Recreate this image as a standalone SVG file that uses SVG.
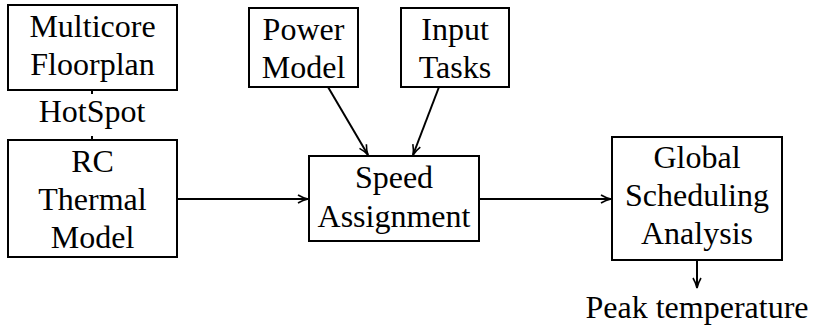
<svg xmlns="http://www.w3.org/2000/svg" width="822" height="325" viewBox="0 0 822 325">
<style>
.box{fill:#fff;stroke:#000;stroke-width:2}
.t{font-family:"Liberation Serif","Noto Serif","Times New Roman",Tinos,"DejaVu Serif",FreeSerif,"Nimbus Roman",Georgia,serif;font-size:32px;fill:#000;text-anchor:middle}
.c{fill:none;stroke:#000;stroke-width:2}
</style>
<defs>
<marker id="ah" viewBox="0 0 12 10" refX="11" refY="5" markerWidth="12" markerHeight="10" markerUnits="userSpaceOnUse" orient="auto">
<path d="M1,1 Q6,4 11,5 Q6,6 1,9" fill="none" stroke="#000" stroke-width="1.6"/>
</marker>
</defs>
<rect width="822" height="325" fill="#fff"/>
<g id="connectors">
<line class="c" x1="92" y1="90" x2="92" y2="94" stroke-width="1"/>
<line class="c" x1="92" y1="136" x2="92" y2="140" stroke-width="1"/>
<line class="c" x1="177" y1="199" x2="308" y2="199" marker-end="url(#ah)"/>
<line class="c" x1="328" y1="87" x2="368" y2="155" marker-end="url(#ah)"/>
<line class="c" x1="439" y1="87" x2="413" y2="155" marker-end="url(#ah)"/>
<line class="c" x1="479" y1="199" x2="611" y2="199" marker-end="url(#ah)"/>
<line class="c" x1="697" y1="260" x2="697" y2="288" marker-end="url(#ah)"/>
</g>
<g id="multicore">
<rect class="box" x="8" y="5" width="169" height="85"/>
<text class="t" x="92.5" y="37">Multicore</text>
<text class="t" x="92.5" y="75">Floorplan</text>
</g>
<g id="hotspot">
<text class="t" x="92" y="122">HotSpot</text>
</g>
<g id="rc">
<rect class="box" x="8" y="140" width="169" height="117"/>
<text class="t" x="92.5" y="172">RC</text>
<text class="t" x="92.5" y="210">Thermal</text>
<text class="t" x="92.5" y="248">Model</text>
</g>
<g id="power">
<rect class="box" x="249" y="8" width="109" height="79"/>
<text class="t" x="303.5" y="40">Power</text>
<text class="t" x="303.5" y="78">Model</text>
</g>
<g id="input">
<rect class="box" x="401" y="8" width="108" height="79"/>
<text class="t" x="455" y="40">Input</text>
<text class="t" x="455" y="78">Tasks</text>
</g>
<g id="speed">
<rect class="box" x="309" y="156" width="170" height="85"/>
<text class="t" x="394" y="188">Speed</text>
<text class="t" x="394" y="227">Assignment</text>
</g>
<g id="global">
<rect class="box" x="612" y="137" width="170" height="123"/>
<text class="t" x="697" y="168">Global</text>
<text class="t" x="697" y="206">Scheduling</text>
<text class="t" x="697" y="244">Analysis</text>
</g>
<g id="peak">
<text class="t" x="697" y="318">Peak temperature</text>
</g>
</svg>
